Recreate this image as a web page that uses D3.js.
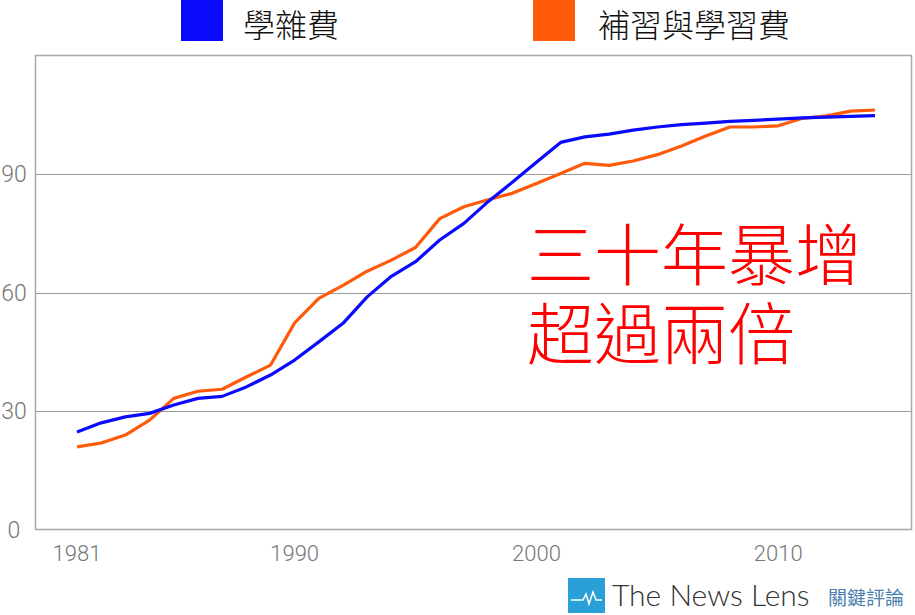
<!DOCTYPE html>
<html>
<head>
<meta charset="utf-8">
<script src="https://cdn.jsdelivr.net/npm/d3@7"></script>
<style>
html,body{margin:0;padding:0;background:#fff;}
svg{display:block;}
</style>
</head>
<body>
<svg id="chart" width="915" height="615"></svg>
<script>
const years = d3.range(1981, 2015);
const tuition = [24.7,27.0,28.5,29.4,31.5,33.2,33.7,36.1,39.1,42.9,47.5,52.2,58.9,64.1,67.8,73.3,77.5,83.0,87.9,93.0,98.0,99.4,100.1,101.1,101.9,102.5,102.9,103.3,103.6,103.9,104.2,104.4,104.6,104.8];
const cram = [20.9,21.9,23.9,27.7,33.2,35.0,35.5,38.6,41.6,52.3,58.5,61.8,65.4,68.2,71.4,78.7,81.7,83.5,85.1,87.6,90.1,92.7,92.2,93.3,94.9,97.1,99.6,101.9,101.9,102.2,104.1,104.7,105.9,106.2];
const seriesNames = ["學雜費","補習與學習費"];
const seriesColors = ["#0a0aff","#ff5a0a"];
const xTicks = [1981,1990,2000,2010];
const yTicks = [0,30,60,90];
const annotation = ["三十年暴增","超過兩倍"];

const svg = d3.select("#chart");
const pL = 35, pR = 912, pT = 55.5, pB = 529.5;
const x = d3.scaleLinear().domain([1981, 2014]).range([77, 875]);
const y = d3.scaleLinear().domain([0, 120]).range([pB, pT]);

// grid
svg.append("g").selectAll("line").data(yTicks.filter(d=>d>0)).join("line")
  .attr("x1", pL).attr("x2", pR)
  .attr("y1", d=>Math.round(y(d))+0.5).attr("y2", d=>Math.round(y(d))+0.5)
  .attr("stroke", "#999").attr("stroke-width", 1.2);

// frame
svg.append("rect").attr("x", pL+0.5).attr("y", pT).attr("width", pR-pL-1).attr("height", pB-pT)
  .attr("fill","none").attr("stroke","#a8a8a8").attr("stroke-width",1.5);

// y labels
svg.append("g").selectAll("text").data(yTicks).join("text")
  .attr("x", 14).attr("y", d=>y(d)+8)
  .attr("text-anchor","middle")
  .attr("font-family","Roboto, 'Liberation Sans', sans-serif").attr("font-weight",300)
  .attr("font-size",23).attr("fill","#777").text(d=>d);

// x labels
svg.append("g").selectAll("text").data(xTicks).join("text")
  .attr("x", d=>x(d)).attr("y", 561)
  .attr("text-anchor","middle")
  .attr("font-family","Roboto, 'Liberation Sans', sans-serif").attr("font-weight",300)
  .attr("font-size",22).attr("fill","#777").text(d=>d);

// lines
const line = d3.line().x((d,i)=>x(years[i])).y(d=>y(d));
[cram, tuition].forEach((s,j)=>{
  const k = j===0 ? 1 : 0;
  svg.append("path").datum(s).attr("d", line)
    .attr("fill","none").attr("stroke", seriesColors[k]).attr("stroke-width",3.2)
    .attr("stroke-linejoin","round");
});

// legend
const legX = [181, 533], legTX = [243, 598];
seriesNames.forEach((n,k)=>{
  svg.append("rect").attr("x", legX[k]).attr("y", 0).attr("width", 42).attr("height", 41).attr("fill", seriesColors[k]);
  svg.append("text").attr("x", legTX[k]).attr("y", 37)
    .attr("font-family","'Noto Sans CJK TC', sans-serif").attr("font-weight",300)
    .attr("font-size",32).attr("fill","#111").text(n);
});

// annotation
annotation.forEach((t,i)=>{
  svg.append("text").attr("x", 527).attr("y", 280 + i*79)
    .attr("font-family","'Liberation Sans', 'Noto Sans CJK TC', sans-serif").attr("font-weight",300)
    .attr("font-size",67).attr("fill","#ff0000").text(t);
});

// logo
const lg = svg.append("g");
lg.append("rect").attr("x",568).attr("y",578).attr("width",37).attr("height",35).attr("fill","#2b9fd8");
lg.append("path").attr("d","M571,600 L583,600 L586,594 L589,604 L593,592 L596,600 L602,600")
  .attr("fill","none").attr("stroke","#fff").attr("stroke-width",1.5);
lg.append("text").attr("x",612).attr("y",606)
  .attr("font-family","Lato, 'Liberation Sans', sans-serif").attr("font-weight",300)
  .attr("font-size",30).attr("fill","#333").text("The News Lens");
lg.append("text").attr("x",828).attr("y",605)
  .attr("font-family","'Noto Sans CJK TC', sans-serif")
  .attr("font-size",19).attr("fill","#4a7fae").text("關鍵評論");
</script>
</body>
</html>
